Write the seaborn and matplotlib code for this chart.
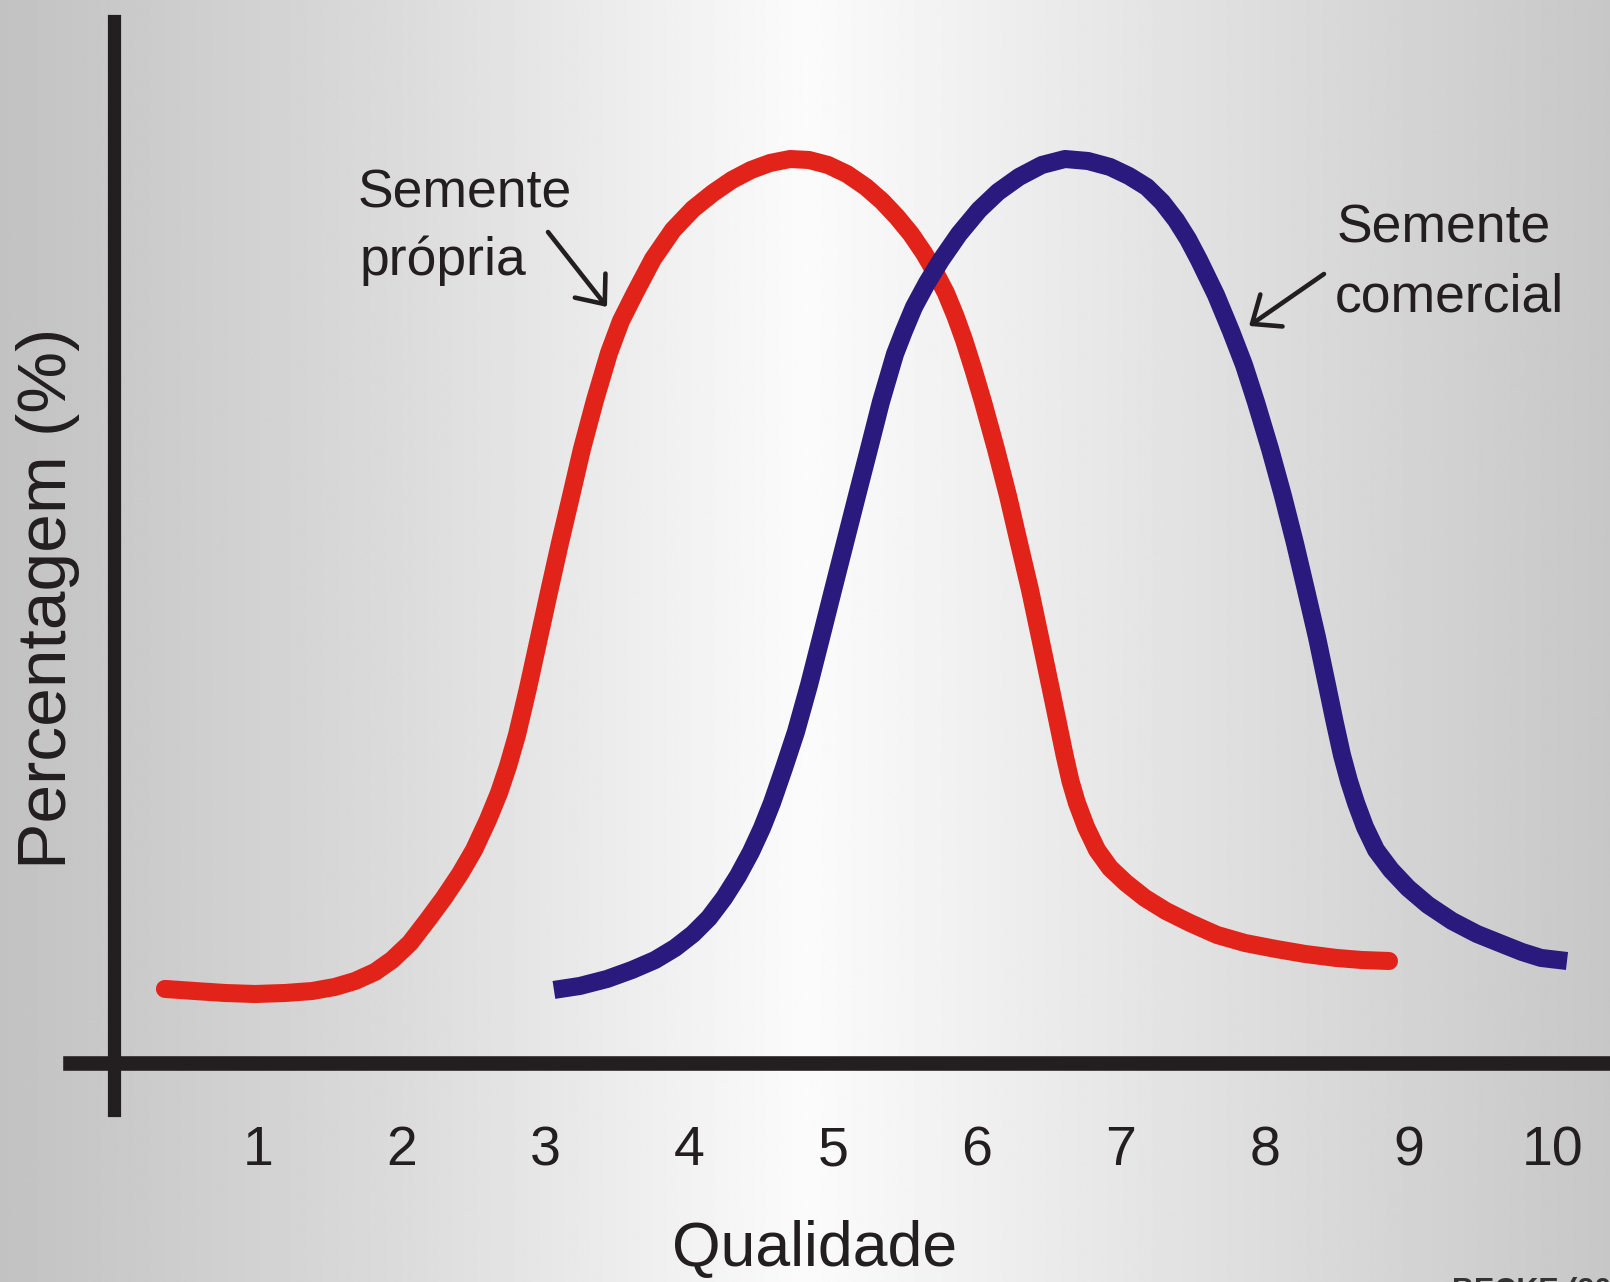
import numpy as np
import matplotlib
matplotlib.use("Agg")
import matplotlib.pyplot as plt
import seaborn as sns

# ---------------- data ----------------
# x: Qualidade (1-10 scale), y: Percentagem (relative, peak = 100)
propria_x = [0.353, 0.562, 0.771, 0.979, 1.188, 1.376, 1.535, 1.675, 1.814, 1.932,
             2.057, 2.175, 2.293, 2.405, 2.502, 2.599, 2.676, 2.739, 2.801, 2.878,
             2.954, 3.027, 3.100, 3.177, 3.253, 3.344, 3.441, 3.524, 3.622, 3.747,
             3.886, 4.025, 4.164, 4.296, 4.428, 4.561, 4.700, 4.832, 4.964, 5.096,
             5.228, 5.339, 5.444, 5.541, 5.631, 5.708, 5.784, 5.850, 5.910, 5.976,
             6.042, 6.132, 6.216, 6.292, 6.369, 6.438, 6.508, 6.560, 6.609, 6.650,
             6.695, 6.758, 6.835, 6.925, 7.036, 7.168, 7.314, 7.481, 7.669, 7.864,
             8.079, 8.281, 8.497, 8.677, 8.865]
propria_y = [8.19, 7.96, 7.74, 7.63, 7.74, 7.96, 8.41, 9.07, 10.07, 11.39,
             13.27, 15.71, 18.25, 20.91, 23.56, 26.88, 29.87, 32.85, 36.28, 41.48,
             47.01, 52.32, 57.52, 62.72, 67.92, 73.34, 78.54, 82.08, 85.18, 88.94,
             92.15, 94.47, 96.24, 97.68, 98.78, 99.56, 100.00, 99.89, 99.34, 98.34,
             96.90, 95.35, 93.58, 91.70, 89.60, 87.50, 85.18, 82.63, 79.98, 76.66,
             73.12, 67.92, 62.72, 57.52, 52.32, 47.12, 41.81, 37.83, 34.07, 31.19,
             28.76, 26.11, 23.56, 21.57, 19.91, 18.25, 16.81, 15.49, 14.16, 13.27,
             12.61, 12.06, 11.62, 11.39, 11.28]

comercial_x = [3.058, 3.239, 3.427, 3.601, 3.761, 3.900, 4.025, 4.136, 4.241, 4.338,
               4.428, 4.505, 4.574, 4.658, 4.741, 4.832, 4.915, 4.999, 5.082, 5.165,
               5.249, 5.332, 5.430, 5.492, 5.562, 5.652, 5.750, 5.875, 6.014, 6.146,
               6.292, 6.451, 6.612, 6.772, 6.925, 7.057, 7.181, 7.287, 7.384, 7.467,
               7.544, 7.662, 7.766, 7.857, 7.940, 8.038, 8.128, 8.211, 8.288, 8.364,
               8.434, 8.486, 8.538, 8.587, 8.636, 8.698, 8.775, 8.879, 8.997, 9.136,
               9.303, 9.477, 9.651, 9.790, 9.922, 10.103]
comercial_y = [8.08, 8.52, 9.29, 10.29, 11.39, 12.72, 14.27, 16.04, 18.25, 20.69,
               23.34, 26.00, 28.76, 32.63, 36.62, 41.81, 47.01, 52.32, 57.52, 62.72,
               67.92, 73.12, 78.43, 80.97, 83.63, 86.28, 88.83, 91.70, 94.36, 96.35,
               98.01, 99.34, 100.00, 99.78, 99.12, 98.12, 96.90, 95.24, 93.25, 91.15,
               88.83, 84.96, 80.97, 77.21, 73.12, 67.92, 62.72, 57.52, 52.32, 47.12,
               41.81, 37.83, 34.07, 31.19, 28.76, 26.11, 23.56, 21.35, 19.36, 17.48,
               15.71, 14.27, 13.16, 12.28, 11.62, 11.28]

tick_values = list(range(1, 11))
tick_labels = [str(v) for v in tick_values]

x_label = "Qualidade"
y_label = "Percentagem (%)"
label_propria = ["Semente", "própria"]
label_comercial = ["Semente", "comercial"]
source_text = "BECKE (2002)"

# ---------------- style ----------------
sns.set_style("white")
plt.rcParams["font.family"] = ["Liberation Sans", "DejaVu Sans"]

RED = "#e2231a"
BLUE = "#2a1a7e"
INK = "#231f20"

fig = plt.figure(figsize=(16.1, 12.82), dpi=100)
ax = fig.add_axes([0, 0, 1, 1])

xlim = (-0.794, 10.402)
ylim = (-24.23, 117.59)

# background: horizontal grey gradient, lightest in the middle
gx = np.linspace(0, 1, 1000)
gval = np.interp(gx, [0.0, 0.25, 0.5, 0.75, 1.0], [0.76, 0.86, 0.985, 0.88, 0.78])
ax.imshow(np.tile(gval, (2, 1)), cmap="gray", vmin=0, vmax=1, aspect="auto",
          extent=[xlim[0], xlim[1], ylim[0], ylim[1]], zorder=0,
          interpolation="bilinear")

# curves
sns.lineplot(x=propria_x, y=propria_y, sort=False, ax=ax, color=RED,
             linewidth=13, solid_capstyle="round", solid_joinstyle="round", zorder=3)
sns.lineplot(x=comercial_x, y=comercial_y, sort=False, ax=ax, color=BLUE,
             linewidth=13, solid_capstyle="butt", solid_joinstyle="round", zorder=4)

ax.set_xlim(*xlim)
ax.set_ylim(*ylim)

# axes (spines crossing at origin)
for s in ["top", "right"]:
    ax.spines[s].set_visible(False)
ax.spines["left"].set_position(("data", 0))
ax.spines["left"].set_bounds(-5.25, 115.3)
ax.spines["left"].set_linewidth(9.5)
ax.spines["left"].set_color(INK)
ax.spines["bottom"].set_position(("data", 0))
ax.spines["bottom"].set_bounds(-0.307, 10.6)
ax.spines["bottom"].set_linewidth(10.5)
ax.spines["bottom"].set_color(INK)

ax.set_yticks([])
ax.set_xticks(tick_values)
ax.set_xticklabels(tick_labels, fontsize=40, color=INK)
ax.tick_params(axis="x", length=0, pad=45)

ax.set_xlabel(x_label, fontsize=45, color=INK, va="baseline")
ax.xaxis.set_label_coords(815 / 1610, 1 - 1266 / 1282)
ax.set_ylabel(y_label, fontsize=50, color=INK, va="center")
ax.yaxis.set_label_coords(48 / 1610, 1 - 598 / 1282)

# annotations
tkw = dict(fontsize=38.5, color=INK, ha="left", va="baseline", zorder=5)
ax.text(1.695, 94.69, label_propria[0], **tkw)
ax.text(1.709, 87.17, label_propria[1], **tkw)
ax.text(8.503, 90.71, label_comercial[0], **tkw)
ax.text(8.489, 83.08, label_comercial[1], **tkw)

akw = dict(arrowstyle="->,head_length=1.7,head_width=1.4", lw=3.3, color=INK,
           shrinkA=0, shrinkB=0)
ax.annotate("", xy=(3.427, 83.63), xytext=(3.017, 91.92), arrowprops=akw, zorder=5)
ax.annotate("", xy=(7.892, 81.53), xytext=(8.413, 87.28), arrowprops=akw, zorder=5)

fig.text(1452 / 1610, 1 - 1277 / 1282, source_text, fontsize=22, fontweight="bold",
         color="#333333", ha="left", va="top")

fig.savefig("out.png", dpi=100)
